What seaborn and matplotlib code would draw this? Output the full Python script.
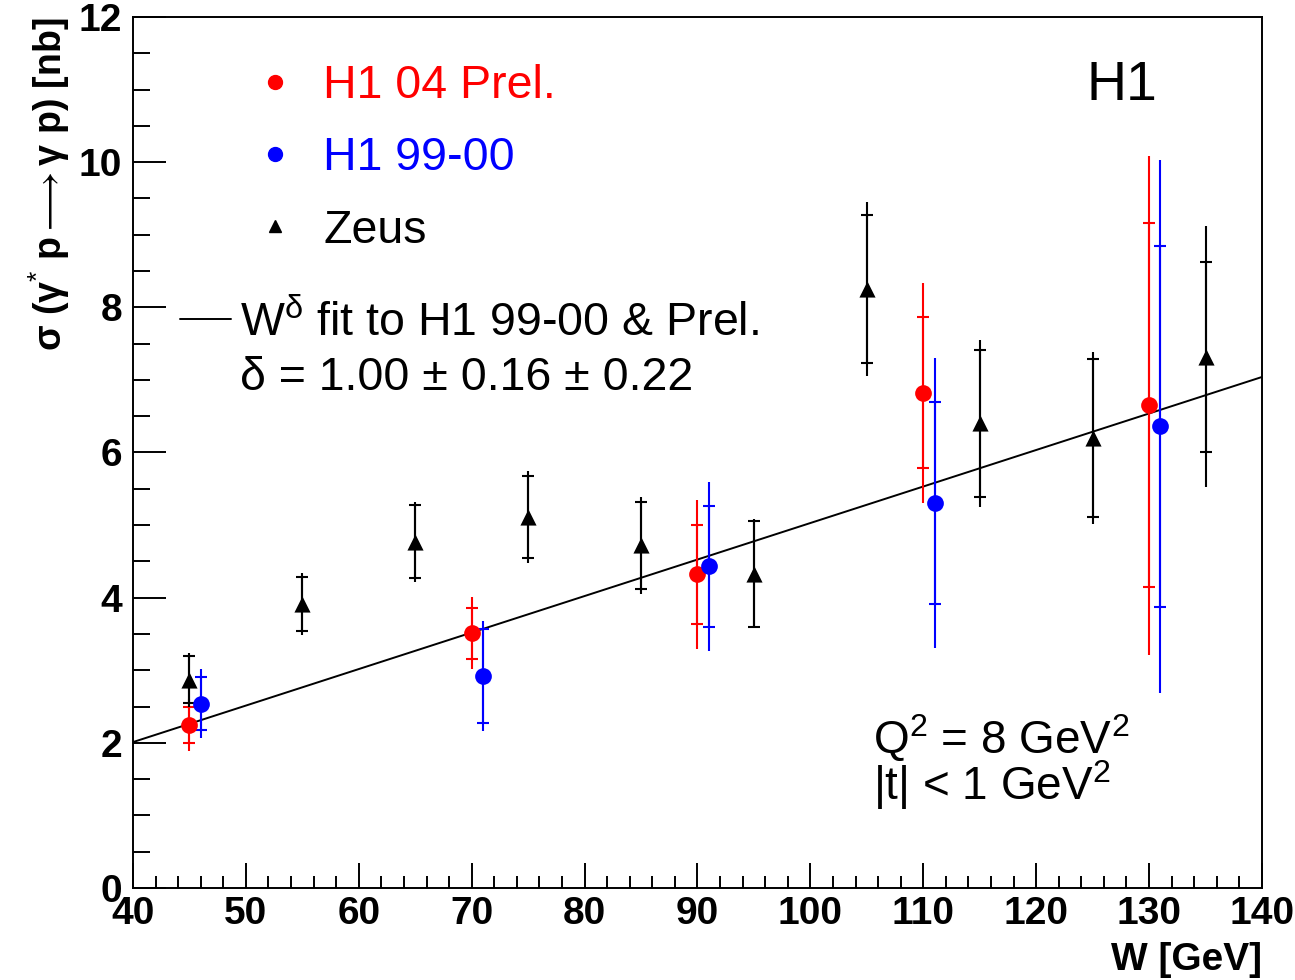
import numpy as np
import pandas as pd
import seaborn as sns
import matplotlib
matplotlib.use('Agg')
import matplotlib.pyplot as plt
from matplotlib.lines import Line2D
from matplotlib.ticker import MultipleLocator

# H1 04 preliminary
h1_04_w = [45, 70, 90, 110, 130]
h1_04_sigma = [2.25, 3.51, 4.32, 6.82, 6.65]
h1_04_stat = [0.25, 0.35, 0.68, 1.04, 2.51]
h1_04_tot = [0.36, 0.50, 1.03, 1.51, 3.44]

# H1 99-00
h1_99_w = [46, 71, 91, 111, 131]
h1_99_sigma = [2.54, 2.92, 4.43, 5.30, 6.36]
h1_99_stat = [0.37, 0.65, 0.83, 1.39, 2.49]
h1_99_tot = [0.48, 0.76, 1.16, 2.00, 3.67]

# Zeus
zeus_w = [45, 55, 65, 75, 85, 95, 105, 115, 125, 135]
zeus_sigma = [2.87, 3.91, 4.77, 5.11, 4.72, 4.33, 8.25, 6.40, 6.20, 7.32]
zeus_stat = [0.32, 0.37, 0.50, 0.57, 0.60, 0.73, 1.02, 1.01, 1.09, 1.31]
zeus_tot = [0.37, 0.43, 0.55, 0.63, 0.67, 0.75, 1.20, 1.15, 1.18, 1.80]

# W^delta fit line (delta = 1)
fit_w = [40, 140]
fit_sigma = [2.01, 7.04]

sns.set_theme(style='white')
plt.rcParams['font.family'] = ['Liberation Sans', 'DejaVu Sans']
plt.rcParams['text.color'] = 'black'
plt.rcParams['axes.labelcolor'] = 'black'
plt.rcParams['mathtext.fontset'] = 'custom'
plt.rcParams['mathtext.rm'] = 'Liberation Sans'
plt.rcParams['mathtext.it'] = 'Liberation Sans:italic'
plt.rcParams['mathtext.bf'] = 'Liberation Sans:bold'
plt.rcParams['mathtext.fallback'] = 'stixsans'

fig = plt.figure(figsize=(12.95, 9.8), dpi=100)
ax = fig.add_axes([0.1027, 0.0939, 0.8718, 0.8888])

sns.lineplot(x=fit_w, y=fit_sigma, color='black', linewidth=1.4, ax=ax, zorder=2)

series = [
    (h1_04_w, h1_04_sigma, h1_04_stat, h1_04_tot, 'red', 'o', 145),
    (h1_99_w, h1_99_sigma, h1_99_stat, h1_99_tot, 'blue', 'o', 145),
    (zeus_w, zeus_sigma, zeus_stat, zeus_tot, 'black', '^', 135),
]
for w, s, stat, tot, col, mk, size in series:
    ax.errorbar(w, s, yerr=tot, fmt='none', ecolor=col, elinewidth=1.5, capsize=0, zorder=3)
    ax.errorbar(w, s, yerr=stat, fmt='none', ecolor=col, elinewidth=1.5,
                capsize=4, capthick=1.5, zorder=3)
    sns.scatterplot(x=w, y=s, color=col, marker=mk, s=size, linewidth=0, ax=ax, zorder=4)

ax.set_xlim(40, 140)
ax.set_ylim(0, 12)
ax.xaxis.set_major_locator(MultipleLocator(10))
ax.xaxis.set_minor_locator(MultipleLocator(2))
ax.yaxis.set_major_locator(MultipleLocator(2))
ax.yaxis.set_minor_locator(MultipleLocator(0.5))
ax.tick_params(axis='both', which='both', direction='in', bottom=True, left=True,
               top=False, right=False, width=1.4, colors='black')
ax.tick_params(axis='y', which='major', length=24, pad=8)
ax.tick_params(axis='y', which='minor', length=12)
ax.tick_params(axis='x', which='major', length=18, pad=6)
ax.tick_params(axis='x', which='minor', length=9)
for lab in ax.get_xticklabels() + ax.get_yticklabels():
    lab.set_fontsize(28)
    lab.set_fontweight('bold')
for sp in ax.spines.values():
    sp.set_linewidth(1.4)
    sp.set_color('black')

ax.set_xlabel('W [GeV]', fontsize=28, fontweight='bold', loc='right')
ax.xaxis.set_label_coords(1.0, -0.062)
ax.set_ylabel(r'σ (γ$^{*}$ p$\longrightarrow$γ p) [nb]', fontsize=27,
              fontweight='bold', loc='top')
ax.yaxis.set_label_coords(-0.054, 1.0)

# legend: data sets
handles = [
    Line2D([], [], color='red', marker='o', linestyle='none', markersize=10),
    Line2D([], [], color='blue', marker='o', linestyle='none', markersize=10),
    Line2D([], [], color='black', marker='^', linestyle='none', markersize=9),
]
labels = ['H1 04 Prel.', 'H1 99-00', 'Zeus']
leg1 = ax.legend(handles, labels, loc='upper left', bbox_to_anchor=(0.1054, 0.946),
                 frameon=False, fontsize=33.5, handlelength=1.0, handletextpad=0.53,
                 labelspacing=0.61, borderpad=0, borderaxespad=0,
                 labelcolor=['red', 'blue', 'black'])
ax.add_artist(leg1)

# legend: fit
fit_handle = [Line2D([], [], color='black', linewidth=1.4)]
ax.legend(fit_handle, [r'W$^{\mathrm{\delta}}$ fit to H1 99-00 & Prel.'], loc='upper left',
          bbox_to_anchor=(0.0416, 0.675), frameon=False, fontsize=33.5,
          handlelength=1.1, handletextpad=0.19, borderpad=0, borderaxespad=0,
          labelcolor='black')
ax.text(0.0948, 0.572, 'δ = 1.00 ± 0.16 ± 0.22', transform=ax.transAxes,
        fontsize=33.5, va='baseline', ha='left')

ax.text(0.845, 0.905, 'H1', transform=ax.transAxes, fontsize=40, va='baseline', ha='left')
ax.text(0.6554, 0.155, 'Q$^{2}$ = 8 GeV$^{2}$', transform=ax.transAxes, fontsize=33,
        va='baseline', ha='left')
ax.text(0.6554, 0.101, '|t| < 1 GeV$^{2}$', transform=ax.transAxes, fontsize=33,
        va='baseline', ha='left')

fig.savefig('out.png', dpi=100)
